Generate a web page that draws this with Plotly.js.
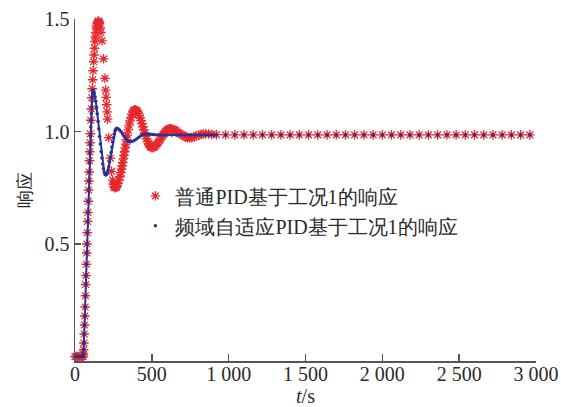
<!DOCTYPE html>
<html>
<head>
<meta charset="utf-8">
<script src="https://cdn.plot.ly/plotly-3.0.1.min.js"></script>
<style>html,body{margin:0;padding:0;background:#fff;}#chart{width:561px;height:407px;}</style>
</head>
<body>
<div id="chart"></div>
<script>
// ---- data ----
const seriesNames = ["普通PID基于工况1的响应", "频域自适应PID基于工况1的响应"];

// conventional PID, transient part
const redT = [0,8,16,24,32,40,46,50,52,54,56,58,60,62,64,66,68,70,72,74,76,78,80,82,84,86,88,90,92,94,96,98,100,
  103,106,109,112,115,118,121,124,127,130,133,136,139,142,145,148,151,154,157,160,164,168,176,186,195,
  200,203,206,209,212,220,230,238,245,250,254,258,262,266,270,275,280,286,292,298,303,307,311,315,319,323,327,331,335,340,
  346,352,358,364,370,376,382,388,394,400,406,412,418,424,430,436,442,448,454,460,466,472,478,484,490,496,502,
  510,518,526,534,542,550,558,566,574,582,590,598,606,614,622,630,640,650,660,672,684,696,708,720,732,745,760,775,790,805,820,835,850,870,890];
const redV = [0,0,0,0,0,0,0,0,0.00,0.01,0.03,0.06,0.10,0.14,0.18,0.22,0.27,0.32,0.36,0.41,0.46,0.50,0.55,0.60,0.64,0.69,0.74,0.78,0.82,0.87,0.91,0.95,0.99,
  1.05,1.10,1.15,1.19,1.23,1.27,1.31,1.34,1.37,1.40,1.42,1.44,1.46,1.47,1.48,1.485,1.49,1.49,1.485,1.48,1.46,1.44,1.403,1.323,1.236,
  1.184,1.152,1.119,1.087,1.055,0.973,0.882,0.823,0.784,0.765,0.756,0.751,0.750,0.752,0.755,0.762,0.770,0.783,0.799,0.817,0.833,0.847,0.862,0.878,0.894,0.910,0.927,0.944,0.964,0.984,
  1.007,1.028,1.047,1.063,1.076,1.086,1.093,1.096,1.095,1.093,1.088,1.081,1.071,1.061,1.048,1.035,1.021,1.007,0.993,0.980,0.967,0.956,0.946,0.939,0.933,0.929,0.928,
  0.929,0.933,0.938,0.944,0.952,0.960,0.969,0.978,0.986,0.994,1.001,1.006,1.010,1.012,1.012,1.011,1.009,1.006,1.002,0.996,0.990,0.985,0.980,0.976,0.973,0.972,0.973,0.976,0.980,0.984,0.987,0.989,0.990,0.989,0.987];

// frequency-domain adaptive PID, transient part
const blueT = [0,8,16,24,32,40,46,50,52,54,56,58,60,62,64,66,68,70,72,74,76,78,80,82,84,86,88,90,92,94,96,98,100,102,104,106,108,110,112,114,116,118,120,
  125,130,135,140,145,150,155,160,165,170,175,180,185,190,195,200,205,210,215,220,225,230,235,240,245,250,255,260,265,271,
  280,290,300,310,320,330,340,350,358,370,385,400,415,430,445,460,475,490,505,520,540,560,580,600,630,660,690,720,750,780,810,840,870,900];
const blueV = [0,0,0,0,0,0,0,0,0.00,0.01,0.03,0.06,0.10,0.14,0.18,0.22,0.27,0.32,0.36,0.41,0.46,0.50,0.55,0.60,0.64,0.69,0.74,0.78,0.82,0.86,0.90,0.94,0.98,1.02,1.05,1.08,1.11,1.135,1.155,1.17,1.18,1.184,1.182,
  1.170,1.155,1.134,1.108,1.079,1.046,1.012,0.978,0.944,0.911,0.882,0.856,0.835,0.820,0.810,0.807,0.809,0.817,0.829,0.845,0.864,0.886,0.908,0.931,0.953,0.972,0.989,1.002,1.010,1.014,
  1.012,1.007,0.999,0.989,0.979,0.969,0.961,0.956,0.955,0.956,0.960,0.967,0.975,0.982,0.987,0.989,0.989,0.988,0.987,0.986,0.985,0.985,0.985,0.985,0.985,0.985,0.985,0.985,0.985,0.985,0.985,0.985,0.985,0.985];

// steady tail, sampled on the same coarse grid for both
const tailT = [920,980,1040,1100,1160,1220,1280,1340,1400,1460,1520,1580,1640,1700,1760,1820,1880,1940,2000,2060,2120,2180,2240,2300,2360,2420,2480,2540,2600,2660,2720,2780,2840,2900,2960];
const redTailV = [0.986,0.985,0.985,0.985,0.985,0.985,0.985,0.985,0.985,0.985,0.985,0.985,0.985,0.985,0.985,0.985,0.985,0.985,0.985,0.985,0.985,0.985,0.985,0.985,0.985,0.985,0.985,0.985,0.985,0.985,0.985,0.985,0.985,0.985,0.985];
const blueTailV = [0.985,0.985,0.985,0.985,0.985,0.985,0.985,0.985,0.985,0.985,0.985,0.985,0.985,0.985,0.985,0.985,0.985,0.985,0.985,0.985,0.985,0.985,0.985,0.985,0.985,0.985,0.985,0.985,0.985,0.985,0.985,0.985,0.985,0.985,0.985];

const xTickVals = [0,500,1000,1500,2000,2500,3000];
const xTickText = ["0","500","1 000","1 500","2 000","2 500","3 000"];
const yTickVals = [0.5,1.0,1.5];
const yTickText = ["0.5","1.0","1.5"];

// ---- styles ----
const RED = "#e8272c";
const BLUE = "#2e3192";
const AX = "#555555";
const TXT = "#2a2a2a";
const FONT = "Times New Roman, Liberation Serif, DejaVu Serif, serif";

const traces = [
  {
    x: redT.concat(tailT), y: redV.concat(redTailV),
    type: "scatter", mode: "markers", name: seriesNames[0], legendgroup: "r",
    cliponaxis: false,
    marker: {symbol: "asterisk-open", size: 8, color: RED, line: {color: RED, width: 1.3}}
  },
  {
    x: blueT, y: blueV,
    type: "scatter", mode: "lines", name: seriesNames[1], legendgroup: "b", showlegend: false,
    cliponaxis: false,
    line: {color: BLUE, width: 2}
  },
  {
    x: blueT.concat(tailT), y: blueV.concat(blueTailV),
    type: "scatter", mode: "markers", name: seriesNames[1], legendgroup: "b",
    cliponaxis: false,
    marker: {symbol: "circle", size: 3.5, color: BLUE}
  }
];

const layout = {
  width: 561, height: 407,
  margin: {l: 75, r: 25, t: 19, b: 46, pad: 0},
  paper_bgcolor: "#ffffff", plot_bgcolor: "#ffffff",
  font: {family: FONT, size: 20, color: TXT},
  showlegend: true,
  legend: {
    x: 0.131, xanchor: "left", y: 0.54, yanchor: "top",
    bgcolor: "rgba(0,0,0,0)", borderwidth: 0,
    font: {family: FONT, size: 20, color: TXT},
    traceorder: "grouped", tracegroupgap: 1, itemwidth: 30
  },
  xaxis: {
    range: [0, 3000], showgrid: false, zeroline: false,
    showline: true, linecolor: AX, linewidth: 1.5,
    ticks: "inside", ticklen: 7, tickwidth: 1.5, tickcolor: AX,
    tickmode: "array", tickvals: xTickVals, ticktext: xTickText,
    ticklabelstandoff: -6,
    tickfont: {family: FONT, size: 20, color: TXT},
    title: {text: "<i>t</i>/s", font: {family: FONT, size: 20, color: TXT}, standoff: 22}
  },
  yaxis: {
    range: [-0.02, 1.5], showgrid: false, zeroline: false,
    showline: true, linecolor: AX, linewidth: 1.5,
    ticks: "inside", ticklen: 6, tickwidth: 1.5, tickcolor: AX,
    tickmode: "array", tickvals: yTickVals, ticktext: yTickText,
    tickfont: {family: FONT, size: 20, color: TXT},
    title: {text: "响应", font: {family: FONT, size: 18, color: TXT}, standoff: 8}
  }
};

Plotly.newPlot("chart", traces, layout, {displayModeBar: false, staticPlot: true});
</script>
</body>
</html>
